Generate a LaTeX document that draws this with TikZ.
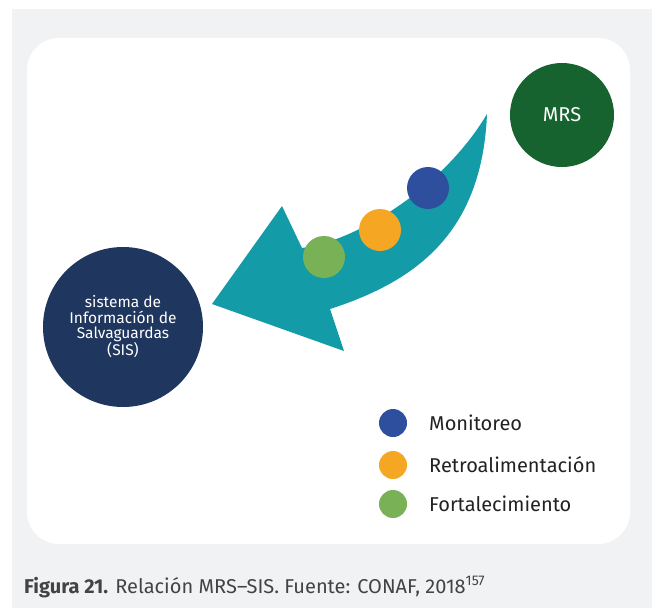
\documentclass[tikz,border=0pt]{standalone}
\usepackage{fontspec}
\setmainfont{Fira Sans}
\definecolor{bggray}{HTML}{F1F2F4}
\definecolor{mrsgreen}{HTML}{16632F}
\definecolor{sisnavy}{HTML}{1F365E}
\definecolor{teal}{HTML}{139BA8}
\definecolor{monblue}{HTML}{2E4E9E}
\definecolor{retorange}{HTML}{F5A623}
\definecolor{fortgreen}{HTML}{79B256}
\definecolor{txt}{HTML}{222222}
\begin{document}
\begin{tikzpicture}[x=1pt,y=-1pt,
  dot/.style={circle,inner sep=0pt,minimum size=42pt},
  legdot/.style={circle,inner sep=0pt,minimum size=28pt},
  legtext/.style={anchor=west,inner sep=0pt,font=\fontsize{20}{22}\selectfont,text=txt}]
\useasboundingbox (0,0) rectangle (652,608);
\fill[white] (0,0) rectangle (652,608);
\fill[bggray] (12,9) rectangle (652,608);
\fill[white,rounded corners=32pt] (27,38) rectangle (630,544);
% arrow
\fill[teal] (487,114) .. controls (482,230) and (420,280) .. (330,309)
  -- (344,351) -- (212,304) -- (282,206) -- (302,248)
  .. controls (360,240) and (445,185) .. cycle;
% circles
\node[dot,fill=mrsgreen,minimum size=104pt,text=white,font=\fontsize{20}{22}\selectfont] (mrs) at (562,115) {MRS};
\node[dot,fill=sisnavy,minimum size=160pt,text=white,align=center,font=\fontsize{15.5}{15.3}\selectfont] (sis) at (123,327) {sistema de\\Información de\\Salvaguardas\\(SIS)};
\node[dot,fill=monblue] (m) at (428,188) {};
\node[dot,fill=retorange] (r) at (380,230) {};
\node[dot,fill=fortgreen] (f) at (324,257) {};
% legend
\node[legdot,fill=monblue] (lm) at (393,423) {};
\node[legdot,fill=retorange] (lr) at (393,465) {};
\node[legdot,fill=fortgreen] (lf) at (393,504) {};
\node[legtext] (tm) at (429,423) {Monitoreo};
\node[legtext] (tr) at (429,465) {Retroalimentación};
\node[legtext] (tf) at (429,504) {Fortalecimiento};
% caption
\node[anchor=base west,inner sep=0pt,text=txt!85!white,font=\fontsize{20}{22}\selectfont] (cap) at (24,593) {\textbf{Figura 21.} Relación MRS–SIS. Fuente: CONAF, 2018\textsuperscript{157}};
\end{tikzpicture}
\end{document}
